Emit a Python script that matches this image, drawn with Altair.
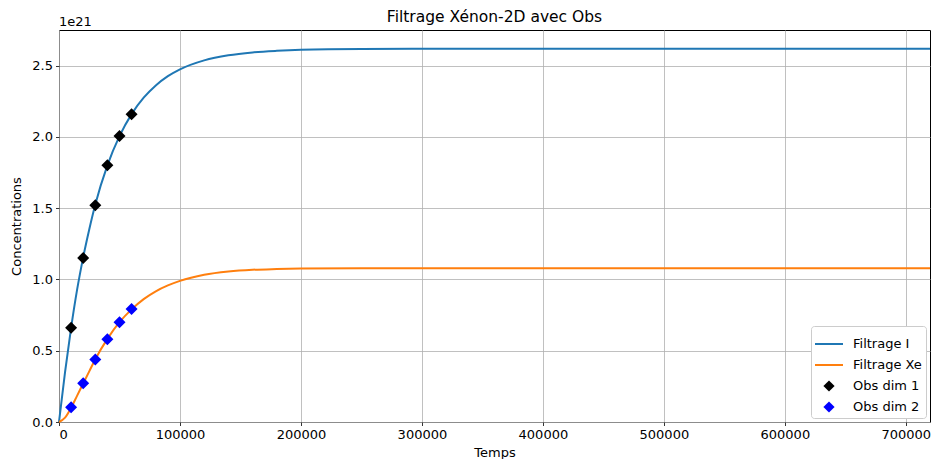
import altair as alt
import pandas as pd

# ---- data (concentrations in units of 1e21) ----
t_line = [0, 5000, 10000, 15000, 20000, 25000, 30000, 40000, 50000, 60000, 70000,
          80000, 90000, 100000, 120000, 140000, 160000, 180000, 200000, 250000,
          300000, 400000, 500000, 600000, 720000]
filt_I = [0, 0.35, 0.66, 0.93, 1.155, 1.35, 1.525, 1.80, 2.005, 2.16, 2.275,
          2.361, 2.426, 2.474, 2.537, 2.573, 2.593, 2.604, 2.611, 2.617,
          2.618, 2.619, 2.619, 2.619, 2.619]
filt_Xe = [0, 0.03, 0.10, 0.185, 0.27, 0.355, 0.44, 0.583, 0.70, 0.79, 0.862,
           0.917, 0.958, 0.99, 1.033, 1.056, 1.068, 1.073, 1.076, 1.078,
           1.079, 1.079, 1.079, 1.079, 1.079]

t_obs = [10000, 20000, 30000, 40000, 50000, 60000]
obs1 = [0.662, 1.151, 1.520, 1.801, 2.006, 2.159]
obs2 = [0.104, 0.271, 0.439, 0.580, 0.699, 0.792]

line_names = ["Filtrage I", "Filtrage Xe"]
line_colors = ["#1f77b4", "#ff7f0e"]
series_names = ["Filtrage I", "Filtrage Xe", "Obs dim 1", "Obs dim 2"]
series_colors = ["#1f77b4", "#ff7f0e", "#000000", "#0000ff"]
x_ticks = [0, 100000, 200000, 300000, 400000, 500000, 600000, 700000]
y_ticks = [0.0, 0.5, 1.0, 1.5, 2.0, 2.5]
title_text = "Filtrage Xénon-2D avec Obs"
exponent_text = "1e21"

LINE_PATH = "M-1,-0.07L1,-0.07L1,0.07L-1,0.07Z"
DIAMOND_PATH = "M0,-0.4L0.4,0L0,0.4L-0.4,0Z"
series_shapes = [LINE_PATH, LINE_PATH, DIAMOND_PATH, DIAMOND_PATH]

lines_df = pd.concat([
    pd.DataFrame({"t": t_line, "v": filt_I, "series": line_names[0]}),
    pd.DataFrame({"t": t_line, "v": filt_Xe, "series": line_names[1]}),
])
obs_df = pd.concat([
    pd.DataFrame({"t": t_obs, "v": obs1, "series": "Obs dim 1"}),
    pd.DataFrame({"t": t_obs, "v": obs2, "series": "Obs dim 2"}),
])

FONT = "DejaVu Sans"
W, H = 871, 392

x_enc = alt.X("t:Q", scale=alt.Scale(domain=[0, 720000], nice=False, zero=False),
              axis=alt.Axis(values=x_ticks, format="d", title="Temps"))
y_enc = alt.Y("v:Q", scale=alt.Scale(domain=[0, 2.75], nice=False),
              axis=alt.Axis(values=y_ticks, format=".1f", title="Concentrations"))

lines = alt.Chart(lines_df).mark_line(strokeWidth=2, interpolate="monotone").encode(
    x=x_enc, y=y_enc,
    stroke=alt.Stroke("series:N", scale=alt.Scale(domain=line_names, range=line_colors),
                      legend=None),
    detail="series:N",
)

legend_props = dict(title=None, orient="bottom-right", offset=4,
                    fillColor="white", strokeColor="#cccccc",
                    cornerRadius=3, padding=4,
                    labelFont=FONT, labelFontSize=13, labelColor="black",
                    symbolSize=784, symbolStrokeWidth=0,
                    labelOffset=10, rowPadding=0)

points = alt.Chart(obs_df).mark_point(filled=True, opacity=1, size=900, strokeWidth=0).encode(
    x=x_enc, y=y_enc,
    color=alt.Color("series:N", scale=alt.Scale(domain=series_names, range=series_colors),
                    legend=alt.Legend(**legend_props)),
    shape=alt.Shape("series:N", scale=alt.Scale(domain=series_names, range=series_shapes),
                    legend=alt.Legend(**legend_props)),
)

exp_label = alt.Chart(pd.DataFrame({"txt": [exponent_text]})).mark_text(
    align="left", baseline="alphabetic", font=FONT, fontSize=13, color="black"
).encode(x=alt.value(0), y=alt.value(-4), text="txt:N")

title_mark = alt.Chart(pd.DataFrame({"txt": [title_text]})).mark_text(
    align="center", baseline="alphabetic", font=FONT, fontSize=15.5, color="black"
).encode(x=alt.value(W / 2), y=alt.value(-8), text="txt:N")

chart = alt.layer(lines, points, exp_label, title_mark).properties(
    width=W, height=H,
    autosize=alt.AutoSizeParams(type="none"),
    padding={"left": 51, "top": 22, "right": 1, "bottom": 37},
).configure_view(stroke="black", strokeWidth=1).configure_axis(
    domain=False, grid=True, gridColor="#b0b0b0", gridWidth=0.8,
    tickColor="black", tickSize=3.5, tickWidth=0.8, labelPadding=3,
    labelFont=FONT, labelFontSize=13, labelColor="black",
    titleFont=FONT, titleFontSize=13, titleFontWeight="normal", titleColor="black",
).configure_axisX(titlePadding=5).configure_axisY(titlePadding=8)

chart.save("out.html", embed_options={"renderer": "svg", "actions": False})
